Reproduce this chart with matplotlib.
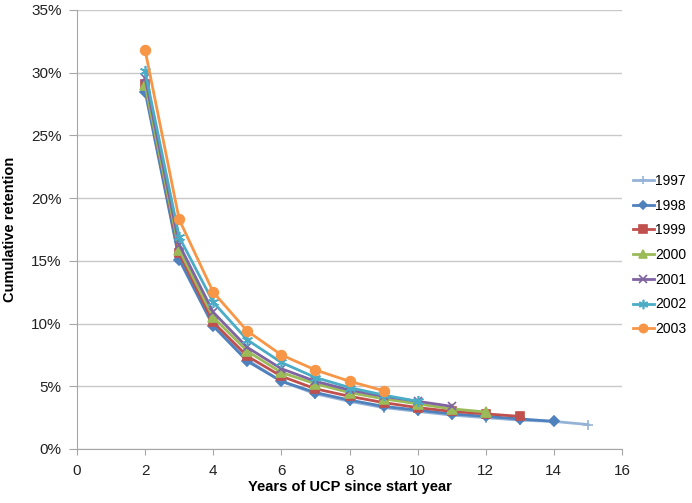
import matplotlib
matplotlib.use("Agg")
import matplotlib.pyplot as plt
from matplotlib.ticker import PercentFormatter

plt.rcParams['font.family'] = ['Liberation Sans', 'DejaVu Sans']

# Cumulative retention (%) by years of UCP since start year
years_1997 = [2, 3, 4, 5, 6, 7, 8, 9, 10, 11, 12, 13, 14, 15]
ret_1997 = [28.8, 15.3, 9.9, 7.1, 5.4, 4.4, 3.8, 3.3, 3.0, 2.7, 2.5, 2.3, 2.2, 1.95]

years_1998 = [2, 3, 4, 5, 6, 7, 8, 9, 10, 11, 12, 13, 14]
ret_1998 = [28.5, 15.1, 9.8, 7.0, 5.4, 4.5, 3.9, 3.4, 3.1, 2.8, 2.6, 2.4, 2.2]

years_1999 = [2, 3, 4, 5, 6, 7, 8, 9, 10, 11, 12, 13]
ret_1999 = [29.1, 15.6, 10.1, 7.4, 5.8, 4.8, 4.2, 3.7, 3.3, 3.0, 2.8, 2.6]

years_2000 = [2, 3, 4, 5, 6, 7, 8, 9, 10, 11, 12]
ret_2000 = [29.0, 15.9, 10.5, 7.8, 6.1, 5.2, 4.5, 4.0, 3.6, 3.2, 2.95]

years_2001 = [2, 3, 4, 5, 6, 7, 8, 9, 10, 11]
ret_2001 = [29.6, 16.3, 10.9, 8.1, 6.4, 5.4, 4.7, 4.2, 3.8, 3.4]

years_2002 = [2, 3, 4, 5, 6, 7, 8, 9, 10]
ret_2002 = [30.1, 16.9, 11.7, 8.7, 6.9, 5.7, 4.9, 4.3, 3.8]

years_2003 = [2, 3, 4, 5, 6, 7, 8, 9]
ret_2003 = [31.8, 18.3, 12.5, 9.4, 7.5, 6.3, 5.4, 4.65]

series = [
    ('1997', years_1997, ret_1997, '#95B3D7', '+', 7),
    ('1998', years_1998, ret_1998, '#4F81BD', 'D', 5),
    ('1999', years_1999, ret_1999, '#C0504D', 's', 6),
    ('2000', years_2000, ret_2000, '#9BBB59', '^', 6.5),
    ('2001', years_2001, ret_2001, '#8064A2', 'x', 6),
    ('2002', years_2002, ret_2002, '#4BACC6', (6, 2, 0), 8),
    ('2003', years_2003, ret_2003, '#F79646', 'o', 7),
]

fig = plt.figure(figsize=(6.92, 5.03), dpi=100)
ax = fig.add_axes([77 / 692, 1 - 449 / 503, 545 / 692, 439 / 503])

for label, xs, ys, color, marker, ms in series:
    ax.plot(xs, ys, color=color, marker=marker, markersize=ms, linewidth=2,
            markeredgewidth=1.2, label=label)

ax.set_xlim(0, 16)
ax.set_ylim(0, 35)
ax.set_xticks(range(0, 17, 2))
ax.set_yticks(range(0, 36, 5))
ax.yaxis.set_major_formatter(PercentFormatter(decimals=0))

ax.grid(axis='y', color='#C8C8C8', linewidth=1)
ax.set_axisbelow(True)
for side in ['top', 'right']:
    ax.spines[side].set_visible(False)
for side in ['left', 'bottom']:
    ax.spines[side].set_color('#A6A6A6')
ax.tick_params(axis='both', direction='out', color='#A6A6A6',
               labelsize=11, labelcolor='#222222')
ax.tick_params(axis='y', length=6, pad=5)
ax.tick_params(axis='x', length=4, pad=7)

ax.set_xlabel('Years of UCP since start year', fontsize=10.5, fontweight='bold', labelpad=1)
ax.set_ylabel('Cumulative retention', fontsize=10.5, fontweight='bold', labelpad=10)

leg = fig.legend(loc='center left', bbox_to_anchor=(633 / 692, 1 - 255 / 503),
                 frameon=False, fontsize=10, handlelength=1.5, handletextpad=0.1,
                 labelspacing=0.77, borderaxespad=0, borderpad=0, markerscale=0.85)

fig.savefig('out.png', dpi=100)
